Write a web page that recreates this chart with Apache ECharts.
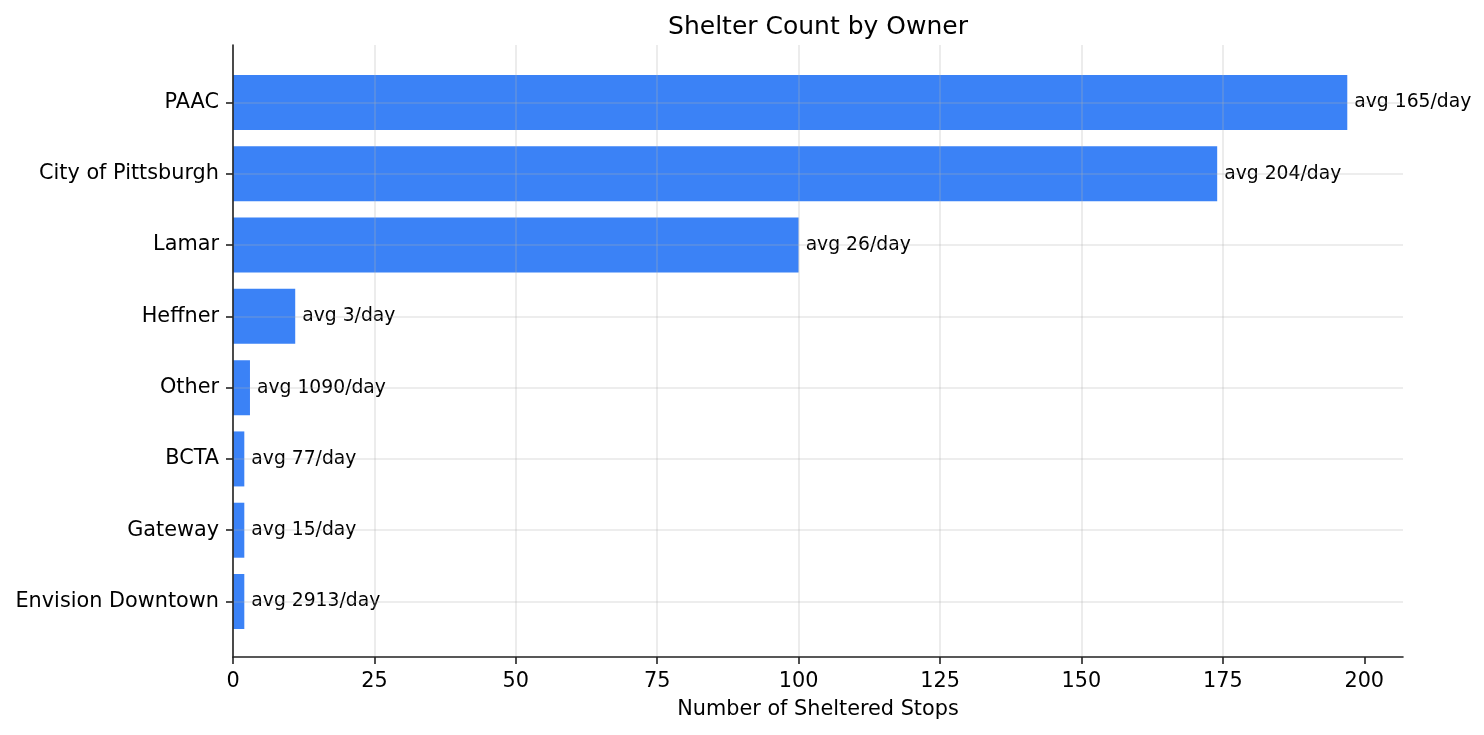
<!DOCTYPE html>
<html>
<head>
<meta charset="utf-8">
<script src="https://cdn.jsdelivr.net/npm/echarts@6/dist/echarts.min.js"></script>
<style>html,body{margin:0;padding:0;background:#fff}#c{width:1484px;height:735px}</style>
</head>
<body>
<div id="c"></div>
<script>
const owners = ['PAAC','City of Pittsburgh','Lamar','Heffner','Other','BCTA','Gateway','Envision Downtown'];
const shelterCounts = [197,174,100,11,3,2,2,2];
const avgPerDay = [165,204,26,3,1090,77,15,2913];
const xTicks = [0,25,50,75,100,125,150,175,200];

const FONT = 'DejaVu Sans';
const gridColor = 'rgba(176,176,176,0.3)';
const chart = echarts.init(document.getElementById('c'), null, {renderer:'canvas'});
const xMax = 206.85;
chart.setOption({
  animation:false,
  backgroundColor:'#fff',
  textStyle:{fontFamily:FONT},
  title:{text:'Shelter Count by Owner', left:813, textAlign:'center', top:10,
    textStyle:{fontFamily:FONT, fontSize:25, fontWeight:'normal', color:'#000'}},
  grid:[
    {left:233, right:81, top:45, bottom:78},
    {left:233, right:81, top:102.5, bottom:133.5}
  ],
  xAxis:[
    {type:'value', gridIndex:0, min:0, max:xMax, interval:25, z:3,
     name:'Number of Sheltered Stops', nameLocation:'middle', nameGap:42,
     nameTextStyle:{fontFamily:FONT, fontSize:20.8, color:'#000'},
     axisLine:{show:true, lineStyle:{color:'#222', width:1.6}},
     axisTick:{show:true, length:7, customValues:xTicks, lineStyle:{color:'#222', width:1.6}},
     axisLabel:{margin:14, fontFamily:FONT, fontSize:20.8, color:'#000', customValues:xTicks, showMaxLabel:true,
       formatter:v=> String(v)},
     splitLine:{show:true, showMaxLine:false, lineStyle:{color:gridColor, width:1.6}}},
    {type:'value', gridIndex:1, min:0, max:xMax, show:false}
  ],
  yAxis:[
    {type:'value', gridIndex:0, z:3, axisLine:{show:true, lineStyle:{color:'#222', width:1.6}},
     axisTick:{show:false}, axisLabel:{show:false}, splitLine:{show:false}},
    {type:'category', gridIndex:1, data:owners, inverse:true, boundaryGap:false, z:3,
     axisLine:{show:false},
     axisTick:{show:true, length:7, lineStyle:{color:'#222', width:1.6}},
     axisLabel:{margin:14, fontFamily:FONT, fontSize:20.8, color:'#000'},
     splitLine:{show:true, lineStyle:{color:gridColor, width:1.6}}}
  ],
  series:[{
    type:'bar', xAxisIndex:1, yAxisIndex:1, data:shelterCounts, barWidth:55, clip:false,
    itemStyle:{color:'#3b82f6'},
    label:{show:true, position:'right', distance:7, fontFamily:FONT, fontSize:18.75, color:'#000',
      formatter:p=>'avg '+avgPerDay[p.dataIndex]+'/day'}
  }]
});
</script>
</body>
</html>
